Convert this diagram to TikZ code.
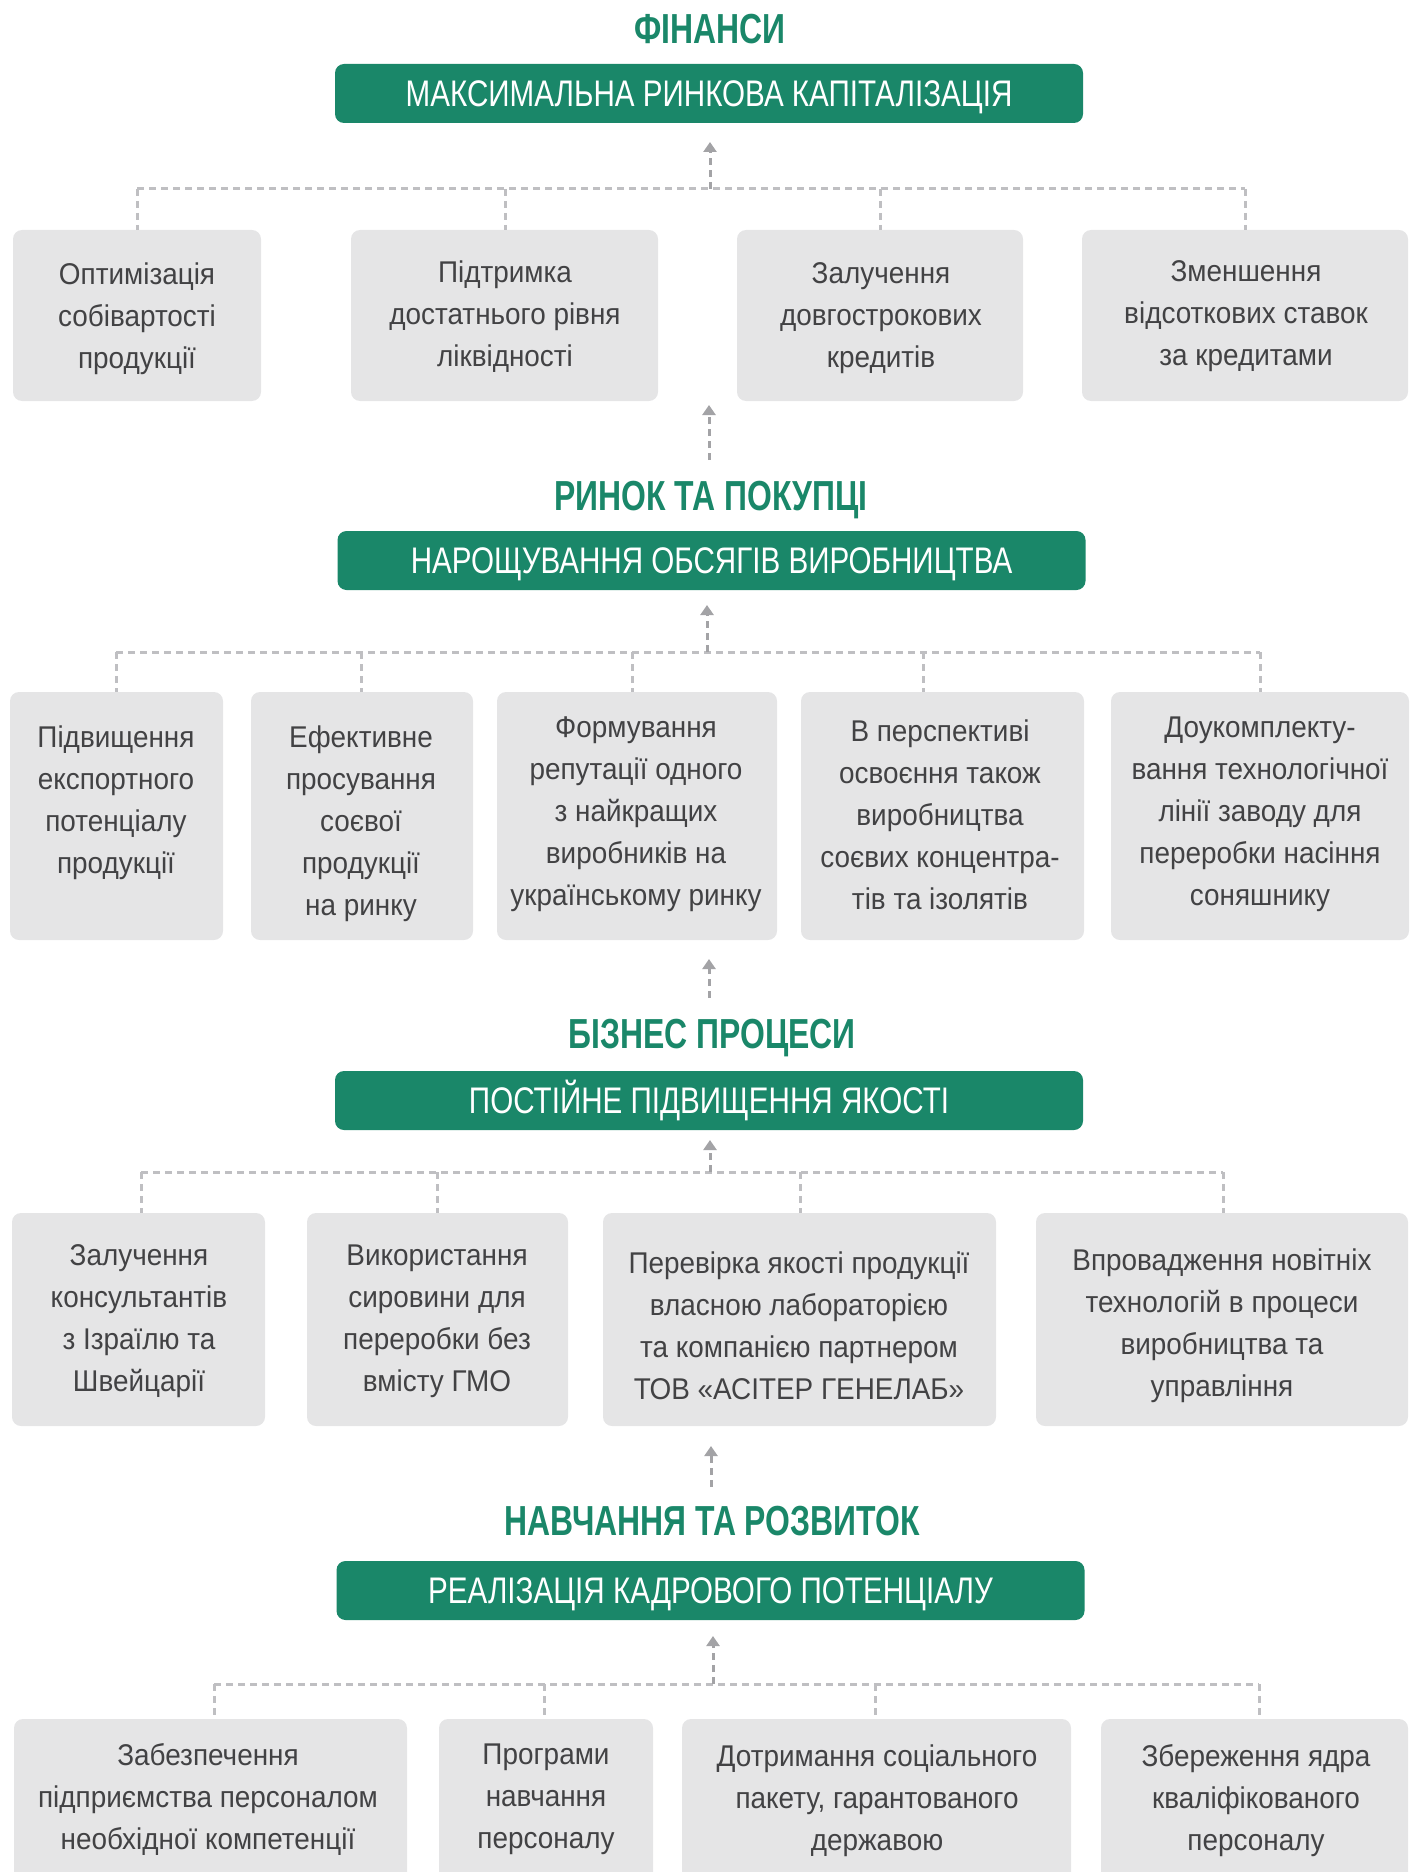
\documentclass[tikz,border=0pt]{standalone}
\usepackage{fontspec}
\setmainfont{Liberation Sans}
\newfontfamily\boxfont{Liberation Sans}[FakeStretch=0.93]
\newfontfamily\barfont{Liberation Sans}[FakeStretch=0.80]
\newfontfamily\titlefont{Liberation Sans Bold}[FakeStretch=0.76]
\usetikzlibrary{arrows.meta}
\definecolor{grn}{HTML}{1A8769}
\definecolor{boxgray}{HTML}{E5E5E6}
\definecolor{dashgray}{HTML}{BFBFC2}
\definecolor{arrgray}{HTML}{A3A3A6}
\definecolor{txtgray}{HTML}{424244}
\newcommand\mkbox[5]{\node[gbox,minimum width={(#4-#2)*0.5pt},minimum height={(#5-#3)*0.5pt}] (#1) at ({(#2+#4)/2},{(#3+#5)/2}) {};}
\newcommand\dropline[3]{\coordinate (#1-top) at (#2,#3); \draw[dsh] (#1-top) -- (#1-top |- #1.north);}
\begin{document}
\begin{tikzpicture}[x=0.5pt,y=-0.5pt,
  gbox/.style={fill=boxgray,rounded corners=4.5pt,inner sep=0pt,outer sep=0pt},
  gbar/.style={fill=grn,rounded corners=4.5pt,minimum width=374pt,minimum height=29.5pt,inner sep=0pt,outer sep=0pt,
    font=\barfont\fontsize{18.5}{20}\selectfont,text=white,text height=13.2pt,text depth=0pt},
  ttl/.style={font=\titlefont\fontsize{21}{24}\selectfont,text=grn,anchor=base,inner sep=0pt},
  btxt/.style={font=\boxfont\fontsize{15}{21}\selectfont,text=txtgray,align=center,inner sep=0pt,yshift=-1.75pt},
  dsh/.style={draw=dashgray,line width=1.5pt,dash pattern=on 3.5pt off 2.5pt},
  arr/.style={draw=arrgray,line width=1.5pt,dash pattern=on 3.5pt off 2.5pt,
    -{Triangle[width=6.5pt,length=5pt]}},
]
\path[use as bounding box] (0,0) rectangle (1416,1872);
\clip (0,0) rectangle (1416,1872);

% ---------------- Section 1
\node[ttl] (title1) at (710,44) {ФІНАНСИ};
\node[gbar] (bar1) at (709,93.5) {МАКСИМАЛЬНА РИНКОВА КАПІТАЛІЗАЦІЯ};
\mkbox{b1}{13}{230}{261}{401}
\mkbox{b2}{351}{230}{658}{401}
\mkbox{b3}{737}{230}{1023}{401}
\mkbox{b4}{1082}{230}{1408}{401}
\node[btxt] (tb1) at (137,315) {Оптимізація\\собівартості\\продукції};
\node[btxt] (tb2) at (505,313) {Підтримка\\достатнього рівня\\ліквідності};
\node[btxt] (tb3) at (881,315) {Залучення\\довгострокових\\кредитів};
\node[btxt] (tb4) at (1246,313) {Зменшення\\відсоткових ставок\\за кредитами};
\dropline{b1}{137}{189}
\dropline{b2}{505}{189}
\dropline{b3}{880}{189}
\dropline{b4}{1245}{189}
\draw[dsh] (b1-top) -- (b4-top);
\coordinate (j1) at (710,189);
\draw[arr,shorten >=9.5pt] (j1) -- (j1 |- bar1.south);

% arrow row1 -> section 2
\coordinate (u1s) at (709,460);
\coordinate (u1e) at (709,405);
\draw[arr] (u1s) -- (u1e);

% ---------------- Section 2
\node[ttl] (title2) at (711,510) {РИНОК ТА ПОКУПЦІ};
\node[gbar] (bar2) at (711.5,560.5) {НАРОЩУВАННЯ ОБСЯГІВ ВИРОБНИЦТВА};
\mkbox{c1}{10}{692}{223}{940}
\mkbox{c2}{251}{692}{473}{940}
\mkbox{c3}{497}{692}{777}{940}
\mkbox{c4}{801}{692}{1084}{940}
\mkbox{c5}{1111}{692}{1409}{940}
\node[btxt] (tc1) at (116,799) {Підвищення\\експортного\\потенціалу\\продукції};
\node[btxt] (tc2) at (361,820) {Ефективне\\просування\\соєвої\\продукції\\на ринку};
\node[btxt] (tc3) at (636,811) {Формування\\репутації одного\\з найкращих\\виробників на\\українському ринку};
\node[btxt] (tc4) at (940,811) {В перспективі\\освоєння також\\виробництва\\соєвих концентра-\\тів та ізолятів};
\node[btxt] (tc5) at (1260,811) {Доукомплекту-\\вання технологічної\\лінії заводу для\\переробки насіння\\соняшнику};
\dropline{c1}{116}{652}
\dropline{c2}{361}{652}
\dropline{c3}{632}{652}
\dropline{c4}{923}{652}
\dropline{c5}{1260}{652}
\draw[dsh] (c1-top) -- (c5-top);
\coordinate (j2) at (707,652);
\draw[arr,shorten >=7.5pt] (j2) -- (j2 |- bar2.south);

% arrow row2 -> section 3
\coordinate (u2s) at (709,998);
\coordinate (u2e) at (709,959);
\draw[arr] (u2s) -- (u2e);

% ---------------- Section 3
\node[ttl] (title3) at (712,1048) {БІЗНЕС ПРОЦЕСИ};
\node[gbar] (bar3) at (709,1100.5) {ПОСТІЙНЕ ПІДВИЩЕННЯ ЯКОСТІ};
\mkbox{d1}{12}{1213}{265}{1426}
\mkbox{d2}{307}{1213}{568}{1426}
\mkbox{d3}{603}{1213}{996}{1426}
\mkbox{d4}{1036}{1213}{1408}{1426}
\node[btxt] (td1) at (139,1318) {Залучення\\консультантів\\з Ізраїлю та\\Швейцарії};
\node[btxt] (td2) at (437,1318) {Використання\\сировини для\\переробки без\\вмісту ГМО};
\node[btxt] (td3) at (799,1322) {Перевірка якості продукції\\власною лабораторією\\та компанією партнером\\ТОВ «АСІТЕР ГЕНЕЛАБ»};
\node[btxt] (td4) at (1222,1322) {Впровадження новітніх\\технологій в процеси\\виробництва та\\управління};
\dropline{d1}{141}{1172}
\dropline{d2}{437}{1172}
\dropline{d3}{800}{1172}
\dropline{d4}{1223}{1172}
\draw[dsh] (d1-top) -- (d4-top);
\coordinate (j3) at (710,1172);
\draw[arr,shorten >=5pt] (j3) -- (j3 |- bar3.south);

% arrow row3 -> section 4
\coordinate (u3s) at (711,1487);
\coordinate (u3e) at (711,1446);
\draw[arr] (u3s) -- (u3e);

% ---------------- Section 4
\node[ttl] (title4) at (712,1535) {НАВЧАННЯ ТА РОЗВИТОК};
\node[gbar] (bar4) at (710.5,1590.5) {РЕАЛІЗАЦІЯ КАДРОВОГО ПОТЕНЦІАЛУ};
\mkbox{e1}{14}{1719}{407}{1890}
\mkbox{e2}{439}{1719}{653}{1890}
\mkbox{e3}{682}{1719}{1071}{1890}
\mkbox{e4}{1101}{1719}{1408}{1890}
\node[btxt] (te1) at (208,1796) {Забезпечення\\підприємства персоналом\\необхідної компетенції};
\node[btxt] (te2) at (546,1796) {Програми\\навчання\\персоналу};
\node[btxt] (te3) at (877,1797) {Дотримання соціального\\пакету, гарантованого\\державою};
\node[btxt] (te4) at (1256,1797) {Збереження ядра\\кваліфікованого\\персоналу};
\dropline{e1}{214}{1684}
\dropline{e2}{544}{1684}
\dropline{e3}{875}{1684}
\dropline{e4}{1259}{1684}
\draw[dsh] (e1-top) -- (e4-top);
\coordinate (j4) at (713,1684);
\draw[arr,shorten >=8pt] (j4) -- (j4 |- bar4.south);
\end{tikzpicture}
\end{document}
